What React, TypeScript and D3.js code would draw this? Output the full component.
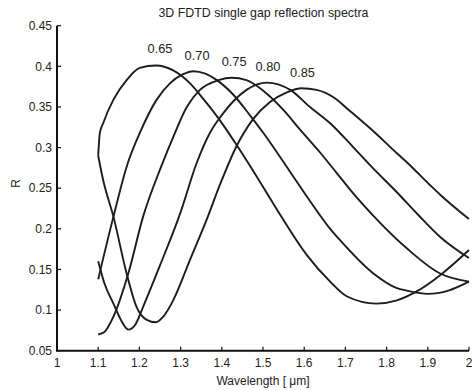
import React from "react";
import * as d3 from "d3";

const xTicks = [1, 1.1, 1.2, 1.3, 1.4, 1.5, 1.6, 1.7, 1.8, 1.9, 2];
const yTicks = [0.05, 0.1, 0.15, 0.2, 0.25, 0.3, 0.35, 0.4, 0.45];

const seriesNames = ["0.65", "0.70", "0.75", "0.80", "0.85"];

const wl065 = [1.1, 1.104, 1.112, 1.137, 1.169, 1.201, 1.24, 1.282, 1.323, 1.355, 1.392, 1.444, 1.468, 1.525, 1.606, 1.663, 1.703, 1.775, 1.825, 1.873, 1.93, 2.0];
const r065 = [0.29, 0.318, 0.33, 0.359, 0.383, 0.398, 0.401, 0.395, 0.379, 0.36, 0.336, 0.297, 0.278, 0.231, 0.168, 0.135, 0.117, 0.108, 0.112, 0.123, 0.143, 0.174];

const wl070 = [1.1, 1.137, 1.17, 1.201, 1.242, 1.274, 1.305, 1.331, 1.36, 1.388, 1.428, 1.468, 1.501, 1.566, 1.606, 1.663, 1.687, 1.768, 1.825, 1.849, 1.9, 1.95, 2.0];
const r070 = [0.138, 0.215, 0.278, 0.318, 0.359, 0.379, 0.39, 0.394, 0.391, 0.383, 0.365, 0.34, 0.318, 0.27, 0.24, 0.2, 0.186, 0.145, 0.127, 0.124, 0.12, 0.124, 0.135];

const wl075 = [1.1, 1.115, 1.137, 1.173, 1.209, 1.254, 1.282, 1.315, 1.347, 1.392, 1.424, 1.46, 1.51, 1.55, 1.59, 1.64, 1.68, 1.72, 1.768, 1.849, 1.93, 2.0];
const r075 = [0.07, 0.073, 0.092, 0.145, 0.215, 0.278, 0.313, 0.35, 0.371, 0.383, 0.386, 0.383, 0.366, 0.346, 0.322, 0.293, 0.268, 0.243, 0.216, 0.176, 0.145, 0.135];

const wl080 = [1.1, 1.115, 1.137, 1.155, 1.173, 1.19, 1.209, 1.25, 1.299, 1.339, 1.371, 1.4, 1.428, 1.46, 1.509, 1.566, 1.614, 1.663, 1.72, 1.768, 1.825, 1.877, 1.93, 2.0];
const r080 = [0.16, 0.133, 0.108, 0.088, 0.076, 0.082, 0.104, 0.155, 0.219, 0.281, 0.318, 0.34, 0.357, 0.371, 0.38, 0.371, 0.35, 0.33, 0.3, 0.274, 0.245, 0.217, 0.19, 0.164];

const wl085 = [1.1, 1.112, 1.137, 1.169, 1.193, 1.218, 1.24, 1.258, 1.282, 1.323, 1.363, 1.396, 1.436, 1.476, 1.517, 1.558, 1.594, 1.63, 1.671, 1.711, 1.768, 1.825, 1.849, 1.905, 1.93, 2.0];
const r085 = [0.29, 0.26, 0.215, 0.145, 0.104, 0.088, 0.085, 0.092, 0.112, 0.162, 0.211, 0.255, 0.302, 0.335, 0.356, 0.368, 0.373, 0.371, 0.362, 0.345, 0.32, 0.293, 0.282, 0.254, 0.242, 0.212];

const labelWl = [1.25, 1.34, 1.43, 1.512, 1.596];
const labelR = [0.4158, 0.4072, 0.3998, 0.3943, 0.3869];

const W = 472;
const H = 390;
const left = 57;
const right = 469;
const top = 25.7;
const bottom = 350.7;

export default function App() {
  const x = d3.scaleLinear().domain([1, 2]).range([left, right]);
  const y = d3.scaleLinear().domain([0.05, 0.45]).range([bottom, top]);
  const series = [
    [wl065, r065],
    [wl070, r070],
    [wl075, r075],
    [wl080, r080],
    [wl085, r085],
  ];
  const line = d3
    .line<[number, number]>()
    .x((d) => x(d[0]))
    .y((d) => y(d[1]))
    .curve(d3.curveMonotoneX);
  const font = "'Liberation Sans', Arial, Helvetica, sans-serif";
  const tickLen = 4;
  return (
    <div style={{ position: "absolute", left: 0, top: 0 }}>
      <svg width={W} height={H} style={{ display: "block", background: "#fff" }}>
        <text x={263.5} y={16.5} textAnchor="middle" fontFamily={font} fontSize={12.4} fill="#222">
          3D FDTD single gap reflection spectra
        </text>
        {series.map(([wl, r], i) => (
          <path
            key={i}
            d={line(wl.map((v, j) => [v, r[j]] as [number, number])) || ""}
            fill="none"
            stroke="#1c1c1c"
            strokeWidth={1.9}
            strokeLinejoin="round"
          />
        ))}
        {seriesNames.map((s, i) => (
          <text key={s} x={x(labelWl[i])} y={y(labelR[i])} textAnchor="middle" fontFamily={font} fontSize={12.8} fill="#222">
            {s}
          </text>
        ))}
        <path d={`M${left},${top}V${bottom}H${right}`} fill="none" stroke="#111" strokeWidth={2} />
        {xTicks.map((t) => (
          <g key={"x" + t}>
            <line x1={x(t)} x2={x(t)} y1={bottom} y2={bottom - tickLen} stroke="#111" strokeWidth={1.2} />
            <text x={x(t)} y={366.5} textAnchor="middle" fontFamily={font} fontSize={12} fill="#222">
              {String(t)}
            </text>
          </g>
        ))}
        {yTicks.map((t) => (
          <g key={"y" + t}>
            <line x1={left} x2={left + tickLen} y1={y(t)} y2={y(t)} stroke="#111" strokeWidth={1.2} />
            <text x={52} y={y(t) + 4.2} textAnchor="end" fontFamily={font} fontSize={12} fill="#222">
              {String(t)}
            </text>
          </g>
        ))}
        <text x={263} y={384.5} textAnchor="middle" fontFamily={font} fontSize={12} fill="#222">
          Wavelength [ μm]
        </text>
        <text transform={`translate(19.5,183.5) rotate(-90)`} textAnchor="middle" fontFamily={font} fontSize={12} fill="#222">
          R
        </text>
      </svg>
    </div>
  );
}
